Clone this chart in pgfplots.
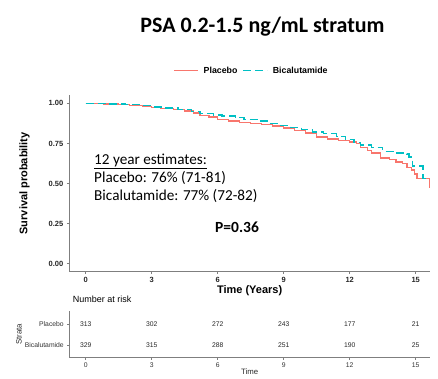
\documentclass[border=0pt]{standalone}
\usepackage{pgfplots}
\pgfplotsset{compat=1.18}
\usepackage{fontspec}
\setmainfont{Liberation Sans}
\newfontfamily\carlito{Carlito}
\definecolor{placebo}{HTML}{F8766D}
\definecolor{bical}{HTML}{00BFC4}
\definecolor{axgray}{HTML}{7F7F7F}
\pgfplotstableread{
t s
0 1.000
0.8 0.997
1.5 0.993
2.0 0.988
2.6 0.981
3.0 0.975
3.4 0.967
4.0 0.960
4.5 0.952
4.9 0.940
5.2 0.925
5.6 0.915
6.0 0.900
6.5 0.890
7.0 0.882
7.5 0.876
8.0 0.868
8.5 0.859
9.0 0.845
9.5 0.830
10.0 0.815
10.5 0.790
11.0 0.778
11.5 0.770
12.0 0.760
12.3 0.748
12.5 0.725
12.8 0.705
13.0 0.690
13.4 0.660
13.8 0.650
14.1 0.635
14.4 0.625
14.6 0.600
14.8 0.585
14.95 0.560
15.05 0.530
15.62 0.470
}\placebo
\pgfplotstableread{
t s
0 1.000
1.0 0.997
1.8 0.992
2.5 0.985
3.0 0.977
3.5 0.970
4.2 0.960
4.8 0.950
5.2 0.935
5.8 0.928
6.2 0.922
6.8 0.910
7.2 0.900
7.8 0.889
8.3 0.875
8.8 0.862
9.3 0.850
9.8 0.838
10.3 0.822
10.8 0.810
11.4 0.795
11.8 0.775
12.2 0.757
12.5 0.740
13.0 0.725
13.5 0.700
14.0 0.690
14.6 0.683
14.7 0.665
14.85 0.610
15.33 0.530
15.62 0.530
}\bical
\begin{document}
\begin{tikzpicture}
\useasboundingbox (0pt,0pt) rectangle (438pt,379pt);
% main KM axis
\begin{axis}[
  at={(69.3pt,107.3pt)}, anchor=south west,
  scale only axis, width=360.7pt, height=176.7pt,
  xmin=-0.745, xmax=15.65, ymin=-0.05, ymax=1.052,
  axis lines=left, axis line style={-, axgray, line width=1.4pt},
  xtick={0,3,...,15}, ytick={0,0.25,0.5,0.75,1},
  yticklabel style={/pgf/number format/fixed, /pgf/number format/fixed zerofill, /pgf/number format/precision=2},
  /pgf/number format/assume math mode=true,
  tick label style={font=\bfseries\fontsize{7.5}{8}\selectfont, text=black!85},
  tick style={axgray, line width=0.8pt},
  tick align=outside, major tick length=2.5pt,
  xlabel={Time (Years)}, ylabel={Survival probability},
  label style={font=\bfseries\fontsize{11}{12}\selectfont},
  xlabel style={at={(axis description cs:0.5,0)}, anchor=north, yshift=-10pt},
  ylabel style={at={(axis description cs:0,0.5)}, anchor=south, yshift=36pt},
  legend columns=-1,
  legend style={draw=none, fill=none, at={(axis description cs:0.505,1.1375)}, anchor=center,
    font=\bfseries\fontsize{8.8}{10}\selectfont, column sep=3pt},
  legend image code/.code={\draw[#1] (0pt,0pt) -- (24pt,0pt);},
  clip=false,
]
\addplot[const plot, placebo, line width=1.4pt] table[x=t,y=s] {\placebo};
\addlegendentry{Placebo}
\addplot[const plot, bical, line width=1.4pt, dash pattern=on 8pt off 4pt] table[x=t,y=s] {\bical};
\addlegendentry{Bicalutamide}
\end{axis}
% risk table axis
\begin{axis}[
  at={(69.3pt,21.4pt)}, anchor=south west,
  scale only axis, width=360.7pt, height=46.2pt,
  xmin=-0.745, xmax=15.65, ymin=0.4, ymax=2.6,
  axis lines=left, axis line style={-, axgray, line width=0.9pt},
  xtick={0,3,...,15}, ytick={1,2}, yticklabels={Bicalutamide, Placebo},
  /pgf/number format/assume math mode=true,
  tick label style={font=\fontsize{6.8}{7}\selectfont, text=black!80},
  tick style={axgray, line width=0.6pt},
  tick align=outside, major tick length=2pt,
  xlabel={Time}, ylabel={Strata},
  label style={font=\fontsize{7.8}{9}\selectfont, text=black!85},
  xlabel style={yshift=6pt},
  ylabel style={at={(axis description cs:0,0.5)}, anchor=south, yshift=44pt},
  title={Number at risk}, title style={font=\fontsize{9}{10}\selectfont, at={(axis description cs:0,1)}, anchor=south west, yshift=-1pt},
  clip=false,
]
\addplot[draw=none, mark=none, nodes near coords, point meta=explicit symbolic,
  nodes near coords align={center}, every node near coord/.append style={font=\fontsize{6.8}{7}\selectfont, text=black!85}]
  coordinates {(0,2)[313] (3,2)[302] (6,2)[272] (9,2)[243] (12,2)[177] (15,2)[21]
               (0,1)[329] (3,1)[315] (6,1)[288] (9,1)[251] (12,1)[190] (15,1)[25]};
\end{axis}
% title and annotations
\node[font=\carlito\bfseries\fontsize{22}{26}\selectfont, anchor=center] at (262.5pt,352pt) {PSA 0.2-1.5 ng/mL stratum};
\node[font=\carlito\fontsize{15.2}{18}\selectfont, anchor=base west, inner sep=0pt] at (94pt,214.7pt) {\underline{12 year estimates:}};
\node[font=\carlito\fontsize{15.2}{18}\selectfont, anchor=base west, inner sep=0pt] at (94pt,196.3pt) {Placebo: 76\% (71-81)};
\node[font=\carlito\fontsize{15.2}{18}\selectfont, anchor=base west, inner sep=0pt] at (94pt,178.3pt) {Bicalutamide: 77\% (72-82)};
\node[font=\carlito\bfseries\fontsize{15.5}{18}\selectfont, anchor=base west, inner sep=0pt] at (215pt,146pt) {P=0.36};
\end{tikzpicture}
\end{document}
